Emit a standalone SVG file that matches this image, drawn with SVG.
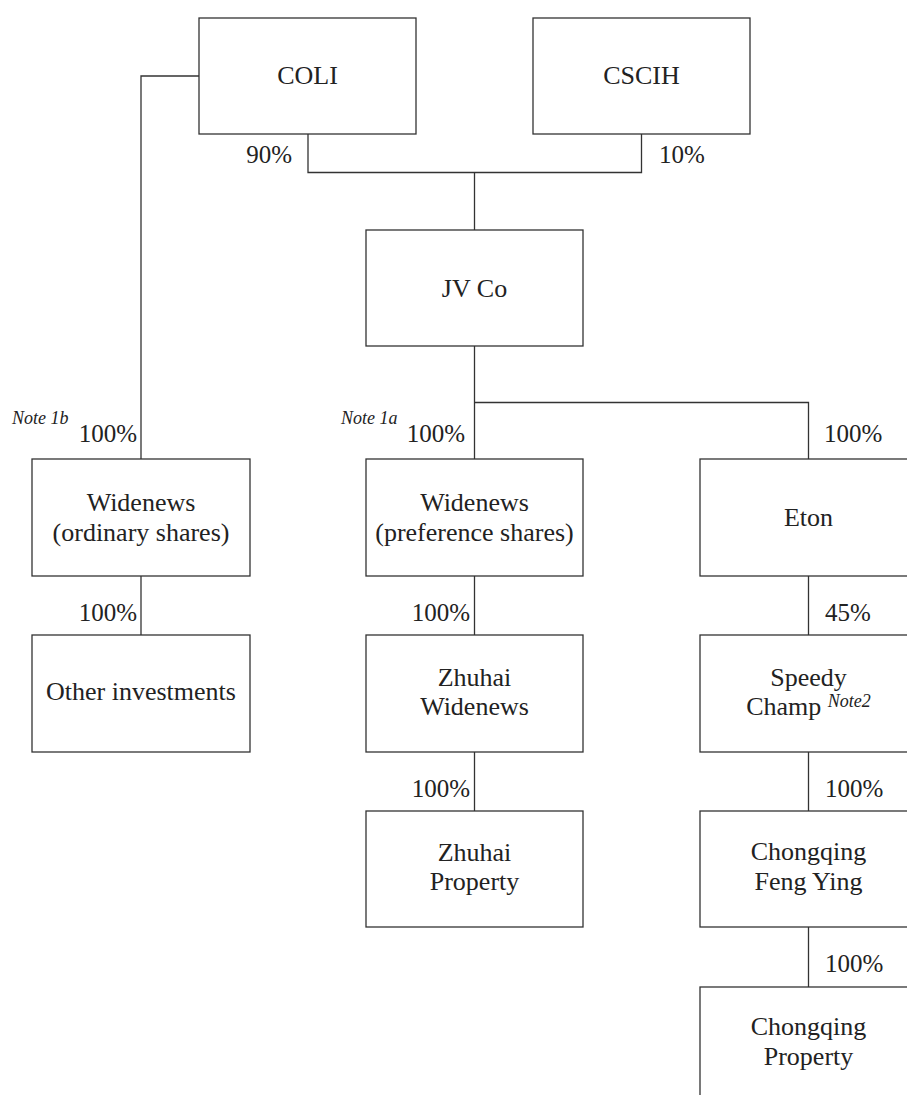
<svg xmlns="http://www.w3.org/2000/svg" width="907" height="1095" viewBox="0 0 907 1095">
<style>
.box{fill:#fff;stroke:#333;stroke-width:1.3}
.ln{fill:none;stroke:#333;stroke-width:1.3}
text{font-family:"Liberation Serif","Times New Roman",serif;fill:#222}
.t{font-size:26px;text-anchor:middle}
.p{font-size:25px}
.n{font-size:18px;font-style:italic}
</style>
<rect width="907" height="1095" fill="#fff"/>
<g id="connectors">
<polyline class="ln" points="308,134 308,172.5 641.5,172.5 641.5,134"/>
<line class="ln" x1="474.5" y1="172.5" x2="474.5" y2="230"/>
<polyline class="ln" points="199,76 141,76 141,459"/>
<line class="ln" x1="474.5" y1="346" x2="474.5" y2="459"/>
<polyline class="ln" points="474.5,402.5 808.5,402.5 808.5,459"/>
<line class="ln" x1="141" y1="576" x2="141" y2="635"/>
<line class="ln" x1="474.5" y1="576" x2="474.5" y2="635"/>
<line class="ln" x1="474.5" y1="752" x2="474.5" y2="811"/>
<line class="ln" x1="808.5" y1="576" x2="808.5" y2="635"/>
<line class="ln" x1="808.5" y1="752" x2="808.5" y2="811"/>
<line class="ln" x1="808.5" y1="927" x2="808.5" y2="987"/>
<text class="p" x="292" y="163" text-anchor="end">90%</text>
<text class="p" x="659" y="163">10%</text>
<text class="n" x="12" y="424">Note 1b</text>
<text class="p" x="137" y="442" text-anchor="end">100%</text>
<text class="n" x="341" y="424">Note 1a</text>
<text class="p" x="465" y="442" text-anchor="end">100%</text>
<text class="p" x="824" y="442">100%</text>
<text class="p" x="137" y="621" text-anchor="end">100%</text>
<text class="p" x="470" y="621" text-anchor="end">100%</text>
<text class="p" x="825" y="621">45%</text>
<text class="p" x="470" y="797" text-anchor="end">100%</text>
<text class="p" x="825" y="797">100%</text>
<text class="p" x="825" y="972">100%</text>
</g>
<g id="coli"><rect class="box" x="199" y="18" width="217" height="116"/><text class="t" x="307.5" y="84">COLI</text></g>
<g id="cscih"><rect class="box" x="533" y="18" width="217" height="116"/><text class="t" x="641.5" y="84">CSCIH</text></g>
<g id="jvco"><rect class="box" x="366" y="230" width="217" height="116"/><text class="t" x="474.5" y="297">JV Co</text></g>
<g id="widenews-ord"><rect class="box" x="32" y="459" width="218" height="117"/><text class="t" x="141" y="511">Widenews</text><text class="t" x="141" y="541">(ordinary shares)</text></g>
<g id="widenews-pref"><rect class="box" x="366" y="459" width="217" height="117"/><text class="t" x="474.5" y="511">Widenews</text><text class="t" x="474.5" y="541">(preference shares)</text></g>
<g id="eton"><rect class="box" x="700" y="459" width="217" height="117"/><text class="t" x="808.5" y="526">Eton</text></g>
<g id="other"><rect class="box" x="32" y="635" width="218" height="117"/><text class="t" x="141" y="700">Other investments</text></g>
<g id="zhuhai-widenews"><rect class="box" x="366" y="635" width="217" height="117"/><text class="t" x="474.5" y="686">Zhuhai</text><text class="t" x="474.5" y="715">Widenews</text></g>
<g id="speedy"><rect class="box" x="700" y="635" width="217" height="117"/><text class="t" x="808.5" y="686">Speedy</text><text class="t" x="808.5" y="715">Champ <tspan class="n" dy="-8">Note2</tspan></text></g>
<g id="zhuhai-property"><rect class="box" x="366" y="811" width="217" height="116"/><text class="t" x="474.5" y="861">Zhuhai</text><text class="t" x="474.5" y="890">Property</text></g>
<g id="fengying"><rect class="box" x="700" y="811" width="217" height="116"/><text class="t" x="808.5" y="860">Chongqing</text><text class="t" x="808.5" y="890">Feng Ying</text></g>
<g id="cq-property"><rect class="box" x="700" y="987" width="217" height="130"/><text class="t" x="808.5" y="1035">Chongqing</text><text class="t" x="808.5" y="1065">Property</text></g>
</svg>
